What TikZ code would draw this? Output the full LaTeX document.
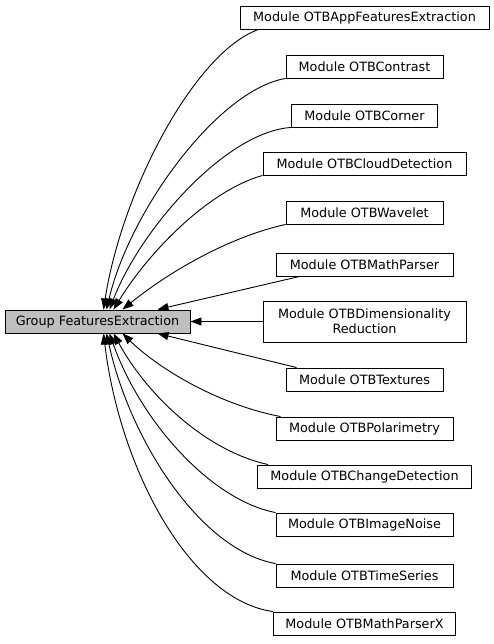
\documentclass[tikz,border=0pt]{standalone}
\usepackage{fontspec}
\setmainfont{DejaVu Sans}
\usetikzlibrary{arrows.meta}
\definecolor{grpgray}{HTML}{BFBFBF}
\begin{document}
\begin{tikzpicture}[x=1pt,y=-1pt,
  modbox/.style={draw,line width=0.9pt,minimum height=23pt,inner sep=2pt,font=\fontsize{12.8}{15}\selectfont},
  dep/.style={line width=0.9pt,-{Triangle[length=11pt,width=8pt]}}]
\useasboundingbox (0,0) rectangle (493,644);
\node[modbox,fill=grpgray,minimum width=185pt] (grp) at (97.5,321.5) {Group FeaturesExtraction};
\foreach \n/\y/\w/\t in {1/17.5/249/OTBAppFeaturesExtraction, 2/66.5/157/OTBContrast,
    3/115.5/146/OTBCorner, 4/163.5/203/OTBCloudDetection, 5/212.5/157/OTBWavelet,
    6/264.5/177/OTBMathParser, 8/379.5/157/OTBTextures, 9/428.5/177/OTBPolarimetry,
    10/476.5/214/OTBChangeDetection, 11/524.5/177/OTBImageNoise,
    12/575.5/177/OTBTimeSeries, 13/623.5/182/OTBMathParserX}
  \node[modbox,minimum width=\w pt] (m\n) at (364.5,\y) {Module \t};
\node[modbox,minimum width=203pt,minimum height=41pt,align=center] (m7) at (364.5,321.5) {Module OTBDimensionality\\Reduction};
% upper modules
\draw[dep] ([xshift=19pt]m1.south west) .. controls (195,52) and (122,190) .. ([xshift=6pt]grp.north);
\draw[dep] (m2.south west) .. controls (218,90) and (130,210) .. ([xshift=9pt]grp.north);
\draw[dep] (m3.south west) .. controls (225,132) and (140,230) .. ([xshift=12pt]grp.north);
\draw[dep] (m4.south west) .. controls (210,190) and (150,250) .. ([xshift=16pt]grp.north);
\draw[dep] (m5.south west) .. controls (225,238) and (165,275) .. ([xshift=25pt]grp.north);
\draw[dep] ([xshift=24pt]m6.south west) -- ([xshift=60pt]grp.north);
\draw[dep] (m7) -- (grp);
% lower modules
\draw[dep] ([xshift=11pt]m8.north west) -- ([xshift=60pt]grp.south);
\draw[dep] ([xshift=5pt]m9.north west) .. controls (220,405) and (160,370) .. ([xshift=25pt]grp.south);
\draw[dep] ([xshift=11pt]m10.north west) .. controls (210,452) and (150,400) .. ([xshift=16pt]grp.south);
\draw[dep] (m11.north west) .. controls (210,500) and (140,420) .. ([xshift=12pt]grp.south);
\draw[dep] (m12.north west) .. controls (200,550) and (130,440) .. ([xshift=9pt]grp.south);
\draw[dep] (m13.north west) .. controls (190,600) and (120,470) .. ([xshift=6pt]grp.south);
\end{tikzpicture}
\end{document}
